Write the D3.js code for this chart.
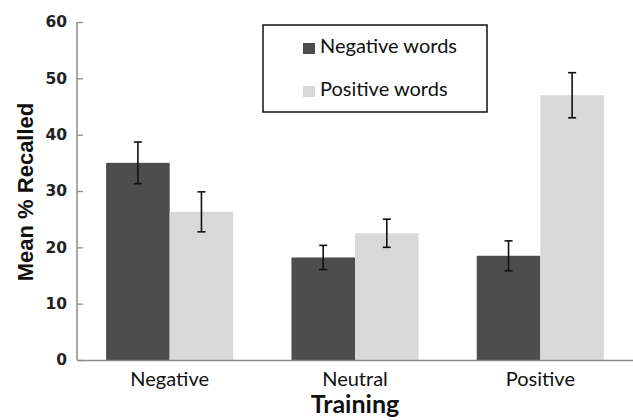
<!DOCTYPE html>
<html>
<head>
<meta charset="utf-8">
<script src="https://cdn.jsdelivr.net/npm/d3@7"></script>
<style>
  body { margin: 0; background: #fff; }
</style>
</head>
<body>
<div class="chart"></div>
<script>
const svgWidth = 633
const svgHeight = 420

// data
const trainings = ["Negative", "Neutral", "Positive"]
const seriesNames = ["Negative words", "Positive words"]
const negWords = [35.0, 18.2, 18.5]
const posWords = [26.3, 22.5, 47.0]
const negErr = [3.7, 2.15, 2.65]
const posErr = [3.55, 2.5, 4.0]
const yTicks = [0, 10, 20, 30, 40, 50, 60]

const colors = ["#4d4d4d", "#d9d9d9"]

let margin = { top: 22, right: 0, bottom: 60, left: 77 }
let width = svgWidth - margin.left - margin.right
let height = 360 - margin.top

let svg = d3.select(".chart").append("svg")
  .attr("width", svgWidth)
  .attr("height", svgHeight)

let chartGroup = svg.append("g")
  .attr("transform", `translate(${margin.left}, ${margin.top})`)

let rows = trainings.map((t, i) => ({
  training: t,
  vals: [
    { key: seriesNames[0], v: negWords[i], e: negErr[i] },
    { key: seriesNames[1], v: posWords[i], e: posErr[i] }
  ]
}))

let x0 = d3.scaleBand()
  .domain(trainings)
  .range([0, width])
  .paddingInner(0.314)
  .paddingOuter(0.157)

let x1 = d3.scaleBand()
  .domain(seriesNames)
  .range([0, x0.bandwidth()])

let y = d3.scaleLinear().domain([0, 60]).range([height, 0])

// bars
let groups = chartGroup.selectAll(".grp")
  .data(rows)
  .enter().append("g")
  .attr("transform", d => `translate(${x0(d.training)}, 0)`)

groups.selectAll("rect")
  .data(d => d.vals)
  .enter().append("rect")
  .attr("x", d => x1(d.key))
  .attr("y", d => y(d.v))
  .attr("width", x1.bandwidth())
  .attr("height", d => height - y(d.v))
  .attr("fill", (d, i) => colors[i])

// error bars
let err = groups.selectAll(".err")
  .data(d => d.vals)
  .enter().append("g")
  .attr("stroke", "#111")
  .attr("stroke-width", 1.6)
err.append("line")
  .attr("x1", d => x1(d.key) + x1.bandwidth() / 2)
  .attr("x2", d => x1(d.key) + x1.bandwidth() / 2)
  .attr("y1", d => y(d.v + d.e))
  .attr("y2", d => y(d.v - d.e))
err.selectAll(".cap")
  .data(d => [d.v + d.e, d.v - d.e].map(c => ({ c, key: d.key })))
  .enter().append("line")
  .attr("x1", d => x1(d.key) + x1.bandwidth() / 2 - 4)
  .attr("x2", d => x1(d.key) + x1.bandwidth() / 2 + 4)
  .attr("y1", d => y(d.c))
  .attr("y2", d => y(d.c))

// y axis, ticks point inward
let leftAxis = d3.axisRight(y).tickValues(yTicks).tickSize(6).tickFormat(d3.format("d"))
let yAxis = chartGroup.append("g").call(leftAxis)
yAxis.select(".domain").attr("stroke", "#8c8c8c").attr("stroke-width", 1.5)
  .attr("d", `M0,${height}V0`)
yAxis.selectAll(".tick line").attr("stroke", "#8c8c8c").attr("stroke-width", 1.3)
yAxis.selectAll(".tick text")
  .attr("x", -10)
  .attr("text-anchor", "end")
  .attr("font-family", "DejaVu Sans")
  .attr("font-weight", "bold")
  .attr("font-size", 15.5)
  .attr("fill", "#222")

// x axis
let xAxis = chartGroup.append("g")
  .attr("transform", `translate(0, ${height})`)
  .call(d3.axisBottom(x0).tickSize(0))
xAxis.select(".domain").attr("stroke", "#8c8c8c").attr("stroke-width", 1.5)
xAxis.selectAll(".tick text")
  .attr("y", 26)
  .attr("dy", 0)
  .attr("font-family", "Lato")
  .attr("font-size", 20)
  .attr("fill", "#111")

// axis titles
svg.append("text")
  .attr("transform", `translate(33, 192) rotate(-90)`)
  .attr("text-anchor", "middle")
  .attr("font-family", "Liberation Sans")
  .attr("font-weight", "bold")
  .attr("font-size", 22)
  .attr("fill", "#111")
  .text("Mean % Recalled")

svg.append("text")
  .attr("x", margin.left + width / 2)
  .attr("y", 413)
  .attr("text-anchor", "middle")
  .attr("font-family", "Lato")
  .attr("font-weight", "bold")
  .attr("font-size", 25)
  .attr("fill", "#111")
  .text("Training")

// legend
let legend = svg.append("g").attr("transform", "translate(263, 25)")
legend.append("rect")
  .attr("width", 224).attr("height", 87)
  .attr("fill", "#fff").attr("stroke", "#111").attr("stroke-width", 1.5)
let items = legend.selectAll(".item")
  .data(seriesNames)
  .enter().append("g")
  .attr("transform", (d, i) => `translate(40, ${18 + i * 43})`)
items.append("rect")
  .attr("width", 12).attr("height", 11)
  .attr("fill", (d, i) => colors[i])
items.append("text")
  .attr("x", 17).attr("y", 10)
  .attr("font-family", "Lato")
  .attr("font-size", 20)
  .attr("fill", "#111")
  .text(d => d)
</script>
</body>
</html>
